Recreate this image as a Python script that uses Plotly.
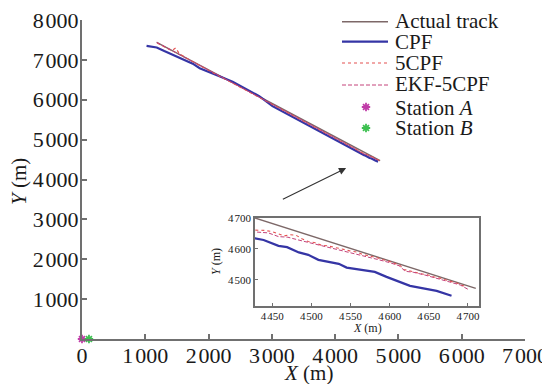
import plotly.graph_objects as go

# ---------------- data ----------------
actual_x = [1180, 2500, 3500, 4428, 4710]
actual_y = [7440, 6325, 5480, 4700, 4473]

cpf_x = [1020, 1180, 1300, 1440, 1600, 1750, 1860, 1960, 2070, 2200, 2380, 2600, 2800,
         3010, 3300, 3600, 3900, 4200, 4428, 4439, 4458, 4469, 4484, 4496, 4509, 4522,
         4535, 4545, 4566, 4581, 4596, 4613, 4626, 4643, 4660, 4679]
cpf_y = [7350, 7310, 7220, 7118, 7010, 6905, 6790, 6730, 6655, 6570, 6450, 6270, 6090,
         5840, 5590, 5335, 5080, 4825, 4634, 4629, 4610, 4606, 4589, 4581, 4565, 4558,
         4552, 4540, 4532, 4526, 4510, 4494, 4481, 4473, 4465, 4449]

c5_x = [1190, 1300, 1420, 1480, 1540, 1700, 1900, 2100, 2400, 2700, 3000, 3300, 3600,
        3900, 4200, 4428, 4440, 4450, 4458, 4465, 4472, 4480, 4488, 4496, 4505, 4513,
        4521, 4530, 4539, 4549, 4558, 4566, 4575, 4584, 4592, 4600, 4608, 4613, 4618,
        4624, 4632, 4640, 4648, 4656, 4664, 4672, 4680, 4688, 4697]
c5_y = [7420, 7320, 7230, 7300, 7150, 7000, 6820, 6650, 6400, 6140, 5880, 5625, 5375,
        5120, 4865, 4661, 4660, 4656, 4648, 4642, 4646, 4645, 4633, 4624, 4620, 4612,
        4610, 4604, 4600, 4594, 4590, 4582, 4577, 4572, 4565, 4560, 4552, 4548, 4534,
        4530, 4527, 4520, 4517, 4510, 4506, 4500, 4494, 4488, 4478]

ekf_x = [1180, 1350, 1600, 1900, 2200, 2500, 2800, 3100, 3400, 3700, 4000, 4300, 4428,
         4445, 4458, 4470, 4482, 4495, 4510, 4525, 4540, 4555, 4570, 4585, 4600, 4612,
         4620, 4630, 4645, 4660, 4675, 4690, 4700]
ekf_y = [7440, 7290, 7080, 6830, 6570, 6320, 6060, 5810, 5555, 5300, 5045, 4790, 4655,
         4652, 4640, 4638, 4630, 4622, 4612, 4604, 4596, 4585, 4576, 4566, 4556, 4546,
         4528, 4525, 4516, 4505, 4495, 4484, 4470]

station_a = (0, 0)
station_b = (110, 0)

main_xticks = [0, 1000, 2000, 3000, 4000, 5000, 6000, 7000]
main_yticks = [1000, 2000, 3000, 4000, 5000, 6000, 7000, 8000]
inset_xticks = [4450, 4500, 4550, 4600, 4650, 4700]
inset_yticks = [4500, 4600, 4700]

legend_names = ["Actual track", "CPF", "5CPF", "EKF-5CPF",
                "Station <i>A</i>", "Station <i>B</i>"]


def fmt(v):
    s = str(v)
    return s if len(s) < 4 else s[:-3] + "\u200a" + s[-3:]


# ---------------- styles ----------------
C_ACT = "#7d6868"
C_CPF = "#3535a5"
C_5 = "#e45050"
C_EKF = "#c4427a"
C_A = "#c03ca8"
C_B = "#3cc050"
AX = "#707070"
TXT = "#1a1a1a"
FONT = "Liberation Serif"

fig = go.Figure()

series = [
    (actual_x, actual_y, dict(color=C_ACT, width=1.4)),
    (cpf_x, cpf_y, dict(color=C_CPF, width=2.2)),
    (c5_x, c5_y, dict(color=C_5, width=1.1, dash="dot")),
    (ekf_x, ekf_y, dict(color=C_EKF, width=1.0, dash="4px,2px")),
]
for xa, ya in [("x", "y"), ("x2", "y2")]:
    for sx, sy, ln in series:
        fig.add_trace(go.Scatter(x=sx, y=sy, mode="lines", line=ln,
                                 xaxis=xa, yaxis=ya, showlegend=False,
                                 hoverinfo="skip"))


def star(col):
    return dict(symbol="asterisk-open", size=7, color=col,
                line=dict(color=col, width=1.8))


for (px, py), col in [(station_a, C_A), (station_b, C_B)]:
    fig.add_trace(go.Scatter(x=[px], y=[py], mode="markers", marker=star(col),
                             cliponaxis=False, showlegend=False, hoverinfo="skip"))

# ---------------- manual legend (positions in screen px) ----------------
L0, B0, W, H = 82, 339, 443, 319  # plot area on screen (px)


def px2paper(x, y):
    return (x - L0) / W, (B0 - y) / H


line_rows = [(21.7, C_ACT, 1.4, "solid"), (41.7, C_CPF, 2.2, "solid"),
             (63, C_5, 1.1, "dot"), (85, C_EKF, 1.0, "4px,2px")]
for yy, col, wd, dsh in line_rows:
    x0, y0 = px2paper(342, yy)
    x1, _ = px2paper(388, yy)
    fig.add_shape(type="line", xref="paper", yref="paper", x0=x0, x1=x1, y0=y0, y1=y0,
                  line=dict(color=col, width=wd, dash=dsh))

for yy, col in [(107, C_A), (128, C_B)]:
    mx, my = px2paper(366, yy)
    fig.add_trace(go.Scatter(x=[mx], y=[my], mode="markers", xaxis="x3", yaxis="y3",
                             marker=star(col), cliponaxis=False, showlegend=False,
                             hoverinfo="skip"))

for name, yy in zip(legend_names, [21, 42, 63, 84, 108, 128]):
    tx, ty = px2paper(393, yy)
    fig.add_annotation(text=name, xref="paper", yref="paper", x=tx, y=ty,
                       xanchor="left", yanchor="middle", showarrow=False,
                       font=dict(family=FONT, size=21, color=TXT))

# axis titles
tx, ty = px2paper(308, 373)
fig.add_annotation(text="<i>X</i> (m)", xref="paper", yref="paper", x=tx, y=ty,
                   xanchor="center", yanchor="middle", showarrow=False,
                   font=dict(family=FONT, size=21, color=TXT))
tx, ty = px2paper(19, 182)
fig.add_annotation(text="<i>Y</i> (m)", xref="paper", yref="paper", x=tx, y=ty,
                   xanchor="center", yanchor="middle", showarrow=False, textangle=-90,
                   font=dict(family=FONT, size=21, color=TXT))
tx, ty = px2paper(367, 328)
fig.add_annotation(text="<i>X</i> (m)", xref="paper", yref="paper", x=tx, y=ty,
                   xanchor="center", yanchor="middle", showarrow=False,
                   font=dict(family=FONT, size=12, color=TXT))
tx, ty = px2paper(216, 262)
fig.add_annotation(text="<i>Y</i> (m)", xref="paper", yref="paper", x=tx, y=ty,
                   xanchor="center", yanchor="middle", showarrow=False, textangle=-90,
                   font=dict(family=FONT, size=12, color=TXT))

# arrow
fig.add_annotation(x=4173, y=4286, ax=3150, ay=3484, xref="x", yref="y",
                   axref="x", ayref="y", showarrow=True, arrowhead=2,
                   arrowsize=1.3, arrowwidth=1.1, arrowcolor="#333333", text="")

# ---------------- axes ----------------
tick_main = dict(family=FONT, size=22, color=TXT)
tick_in = dict(family=FONT, size=11, color=TXT)
common = dict(showline=True, linecolor=AX, ticks="inside", tickcolor=AX,
              showgrid=False, zeroline=False, automargin=False,
              ticklabeloverflow="allow")

# the page body has an 8px default margin: figure is 542x376 placed at (8, 8)
fig.update_layout(
    width=542, height=376,
    margin=dict(l=74, r=25, t=12, b=45),
    paper_bgcolor="white", plot_bgcolor="white",
    showlegend=False,
    xaxis=dict(range=[0, 7000], tickvals=main_xticks,
               ticktext=[fmt(v) for v in main_xticks], linewidth=2,
               ticklen=5, tickwidth=1.5, tickfont=tick_main,
               ticklabelstandoff=-4, **common),
    yaxis=dict(range=[0, 8000], tickvals=main_yticks,
               ticktext=[fmt(v) for v in main_yticks], linewidth=2,
               ticklen=5, tickwidth=1.5, tickfont=tick_main,
               ticklabelstandoff=-3, **common),
    xaxis2=dict(domain=[0.3905, 0.896], anchor="y2", range=[4428, 4714],
                tickvals=inset_xticks, ticktext=[fmt(v) for v in inset_xticks],
                mirror=True, linewidth=1.5, ticklen=3, tickfont=tick_in,
                ticklabelstandoff=-1, **common),
    yaxis2=dict(domain=[0.1034, 0.3793], anchor="x2", range=[4416, 4700],
                tickvals=inset_yticks, ticktext=[fmt(v) for v in inset_yticks],
                mirror=True, linewidth=1.5, ticklen=3, tickfont=tick_in, **common),
    xaxis3=dict(overlaying="x", range=[0, 1], visible=False),
    yaxis3=dict(overlaying="y", range=[0, 1], visible=False),
)

fig.write_html("out.html")
